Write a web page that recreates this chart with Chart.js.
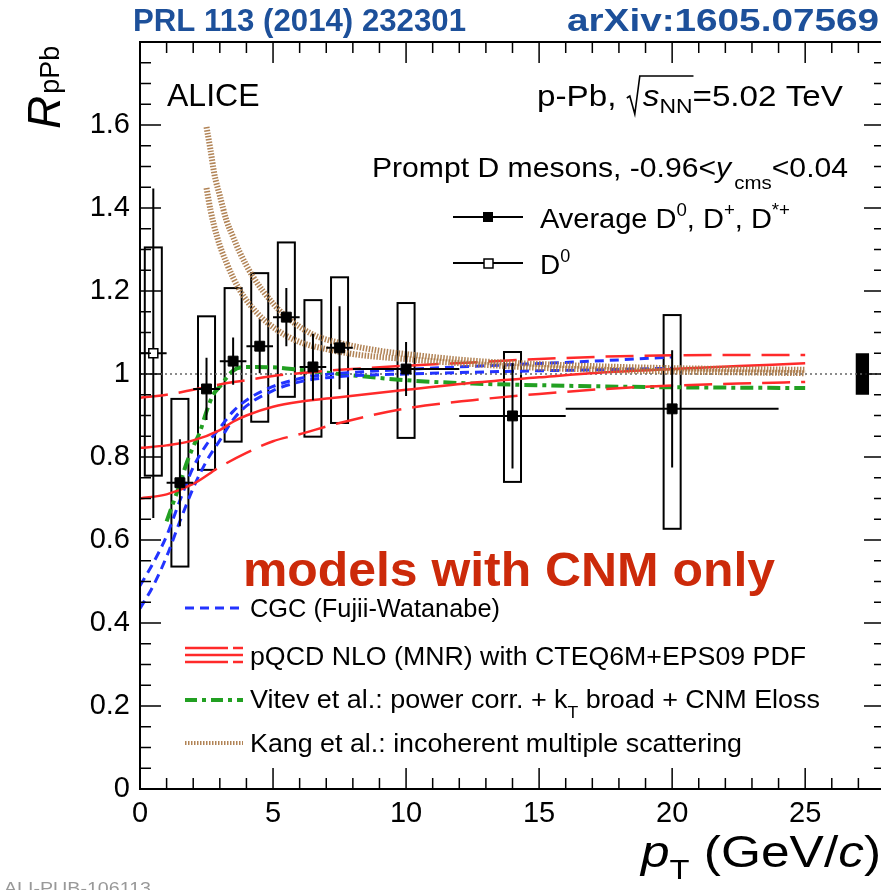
<!DOCTYPE html>
<html>
<head>
<meta charset="utf-8">
<script src="https://cdn.jsdelivr.net/npm/chart.js@4/dist/chart.umd.min.js"></script>
<style>
html, body { margin: 0; padding: 0; background: #fff; overflow: hidden; }
#wrap { position: relative; width: 881px; height: 890px; overflow: hidden; }
canvas { display: block; }
</style>
</head>
<body>
<div id="wrap"><canvas id="rpPb" width="900" height="890"></canvas></div>
<script>
// tick labels
const xTickVals = [0, 5, 10, 15, 20, 25];
const xTickLabels = ['0', '5', '10', '15', '20', '25'];
const yTickVals = [0, 0.2, 0.4, 0.6, 0.8, 1, 1.2, 1.4, 1.6];
const yTickLabels = ['0', '0.2', '0.4', '0.6', '0.8', '1', '1.2', '1.4', '1.6'];

// Average D0, D+, D*+ (filled squares)
const avgPt    = [1.5, 2.5, 3.5, 4.5, 5.5, 6.5, 7.5, 10, 14, 20];
const avgLow   = [1, 2, 3, 4, 5, 6, 7, 8, 12, 16];
const avgHigh  = [2, 3, 4, 5, 6, 7, 8, 12, 16, 24];
const avgR     = [0.738, 0.964, 1.031, 1.067, 1.137, 1.017, 1.063, 1.012, 0.899, 0.916];
const avgStat  = [0.105, 0.075, 0.057, 0.065, 0.07, 0.08, 0.10, 0.065, 0.127, 0.141];
const avgSysHi = [0.94, 1.139, 1.207, 1.243, 1.317, 1.178, 1.233, 1.171, 1.053, 1.142];
const avgSysLo = [0.536, 0.769, 0.837, 0.885, 0.945, 0.849, 0.882, 0.846, 0.74, 0.627];

// D0 only (open square)
const d0Pt    = [0.5];
const d0Low   = [0];
const d0High  = [1];
const d0R     = [1.05];
const d0Stat  = [0.397];
const d0SysHi = [1.305];
const d0SysLo = [0.755];

// normalisation uncertainty, drawn at the right
const normPt = 27.15;
const normUnc = 0.05;

// CGC (Fujii-Watanabe)
const cgcX  = [0, 0.5, 1, 1.5, 2, 2.5, 3, 3.5, 4, 5, 6, 7, 8, 10, 13, 16, 18, 20];
const cgcHi = [0.49, 0.545, 0.61, 0.695, 0.775, 0.83, 0.87, 0.91, 0.937, 0.97, 0.989, 0.999, 1.004, 1.011, 1.02, 1.028, 1.034, 1.041];
const cgcLo = [0.435, 0.49, 0.56, 0.645, 0.725, 0.79, 0.84, 0.89, 0.923, 0.96, 0.981, 0.991, 0.996, 1.0, 1.005, 1.009, 1.011, 1.014];

// pQCD NLO (MNR) with CTEQ6M+EPS09
const mnrHiX = [0, 1, 2, 3, 4, 5, 6, 7.5, 10, 12.5, 15, 17.5, 20, 22.5, 25];
const mnrHi  = [0.943, 0.95, 0.962, 0.975, 0.985, 0.995, 1.002, 1.01, 1.02, 1.028, 1.036, 1.042, 1.045, 1.046, 1.046];
const mnrMidX = [0, 1, 2, 3, 3.5, 4, 5, 6, 7.5, 10, 12.5, 15, 17.5, 20, 22.5, 25];
const mnrMid  = [0.822, 0.828, 0.84, 0.865, 0.885, 0.9, 0.921, 0.933, 0.944, 0.962, 0.979, 0.992, 1.004, 1.012, 1.019, 1.026];
const mnrLoX = [0, 1, 2, 3, 4, 5, 6, 7.5, 10, 12.5, 15, 17.5, 20, 22.5, 25];
const mnrLo  = [0.7, 0.71, 0.735, 0.776, 0.81, 0.838, 0.855, 0.882, 0.917, 0.937, 0.952, 0.964, 0.972, 0.977, 0.981];

// Vitev et al.
const vitevX = [1.0, 1.25, 1.5, 1.75, 2, 2.25, 2.5, 2.75, 3, 3.5, 4, 5, 6, 7.5, 10, 12.5, 15, 17.5, 20, 22.5, 25];
const vitev  = [0.645, 0.69, 0.735, 0.785, 0.825, 0.86, 0.91, 0.95, 0.97, 1.008, 1.017, 1.016, 1.01, 1.0, 0.985, 0.977, 0.973, 0.97, 0.968, 0.967, 0.966];

// Kang et al.
const kangHiX = [2.5, 2.65, 2.8, 3, 3.25, 3.5, 3.75, 4.25, 5, 5.5, 6.5, 7.5, 9, 10, 12.5, 15, 17.5, 20, 22.5, 25];
const kangHi  = [1.595, 1.54, 1.48, 1.43, 1.37, 1.33, 1.293, 1.234, 1.17, 1.138, 1.095, 1.075, 1.056, 1.048, 1.032, 1.024, 1.018, 1.014, 1.012, 1.01];
const kangLoX = [2.5, 2.65, 2.9, 3.25, 3.75, 4.4, 5.15, 6, 7, 8, 10, 12.5, 15, 17.5, 20, 22.5, 25];
const kangLo  = [1.448, 1.395, 1.33, 1.268, 1.202, 1.147, 1.106, 1.077, 1.06, 1.048, 1.036, 1.024, 1.015, 1.01, 1.006, 1.004, 1.002];

const FONT = '"Liberation Sans", Arial, Helvetica, sans-serif';
const BOX_HALF = 0.32;   // half width of the systematic boxes, in GeV/c
const RED = '#ff2a2a', BLUE = '#2233ff', GREEN = '#22a022', BROWN = 'rgba(168,118,66,0.9)';

const xy = (xs, ys) => xs.map((x, i) => ({x: x, y: ys[i]}));

function model(xs, ys, color, width, dash, extra) {
    return Object.assign({
        type: 'line', data: xy(xs, ys), borderColor: color, borderWidth: width,
        borderDash: dash, pointRadius: 0, fill: false,
        cubicInterpolationMode: 'monotone', order: 2
    }, extra || {});
}

// draw a run of text pieces (for sub/superscripts), optionally stretched to a width
function fnt(r) { return (r.i ? 'italic ' : '') + (r.b ? 'bold ' : '') + r.s + 'px ' + FONT; }
function runs(ctx, x, y, list, align, color, fitW) {
    ctx.save();
    ctx.fillStyle = color || '#000';
    ctx.textBaseline = 'alphabetic';
    ctx.textAlign = 'left';
    let w = 0;
    list.forEach(r => { ctx.font = fnt(r); r.w = ctx.measureText(r.t).width + (r.gap || 0); w += r.w; });
    const k = fitW ? fitW / w : 1;
    const W = w * k;
    const start = align === 'right' ? x - W : (align === 'center' ? x - W / 2 : x);
    ctx.translate(start, y);
    ctx.scale(k, 1);
    let cx = 0;
    list.forEach(r => {
        ctx.font = fnt(r);
        ctx.fillText(r.t, cx, r.dy || 0);
        r.px0 = start + cx * k;
        r.pw = r.w * k;
        cx += r.w;
    });
    ctx.restore();
    return list;
}

// systematics boxes and error bars
function drawBoxes(chart, pts, sysLo, sysHi) {
    const {ctx, scales: {x, y}} = chart;
    ctx.save();
    ctx.strokeStyle = '#000';
    ctx.lineWidth = 2;
    pts.forEach((p, i) => {
        const l = x.getPixelForValue(p - BOX_HALF), r = x.getPixelForValue(p + BOX_HALF);
        const t = y.getPixelForValue(sysHi[i]), b = y.getPixelForValue(sysLo[i]);
        ctx.strokeRect(l, t, r - l, b - t);
    });
    ctx.restore();
}
function drawBars(chart, pts, lo, hi, val, stat) {
    const {ctx, scales: {x, y}} = chart;
    ctx.save();
    ctx.strokeStyle = '#000';
    ctx.lineWidth = 2;
    ctx.beginPath();
    pts.forEach((p, i) => {
        const px = x.getPixelForValue(p), py = y.getPixelForValue(val[i]);
        ctx.moveTo(x.getPixelForValue(lo[i]), py);
        ctx.lineTo(x.getPixelForValue(hi[i]), py);
        ctx.moveTo(px, y.getPixelForValue(val[i] + stat[i]));
        ctx.lineTo(px, y.getPixelForValue(val[i] - stat[i]));
    });
    ctx.stroke();
    ctx.restore();
}

const dataPlugin = {
    id: 'dataPlugin',
    beforeDatasetsDraw(chart) {
        drawBoxes(chart, avgPt, avgSysLo, avgSysHi);
        drawBoxes(chart, d0Pt, d0SysLo, d0SysHi);
        const {ctx, scales: {x, y}} = chart;
        const l = x.getPixelForValue(normPt - 0.25), r = x.getPixelForValue(normPt + 0.25);
        const t = y.getPixelForValue(1 + normUnc), b = y.getPixelForValue(1 - normUnc);
        ctx.fillStyle = '#000';
        ctx.fillRect(l, t, r - l, b - t);
    },
    beforeDatasetDraw(chart, args) {
        if (args.index === 0) drawBars(chart, avgPt, avgLow, avgHigh, avgR, avgStat);
        if (args.index === 1) drawBars(chart, d0Pt, d0Low, d0High, d0R, d0Stat);
    }
};

// ROOT style frame with inner ticks
const framePlugin = {
    id: 'framePlugin',
    afterDatasetsDraw(chart) {
        const {ctx, chartArea: a, scales: {x, y}} = chart;
        ctx.save();
        ctx.strokeStyle = '#000';
        ctx.lineWidth = 1.5;
        ctx.beginPath();
        for (let v = 0; v <= 28; v++) {
            const px = x.getPixelForValue(v);
            const len = v % 5 === 0 ? 21 : 11;
            ctx.moveTo(px, a.bottom); ctx.lineTo(px, a.bottom - len);
            ctx.moveTo(px, a.top); ctx.lineTo(px, a.top + len);
        }
        for (let k = 0; k <= 36; k++) {
            const py = y.getPixelForValue(k * 0.05);
            const len = k % 4 === 0 ? 21 : 11;
            ctx.moveTo(a.left, py); ctx.lineTo(a.left + len, py);
            ctx.moveTo(a.right, py); ctx.lineTo(a.right - len, py);
        }
        ctx.stroke();
        ctx.lineWidth = 2;
        ctx.strokeRect(a.left, a.top, a.right - a.left, a.bottom - a.top);
        ctx.restore();
    }
};

function seg(ctx, x1, y1, x2, y2, color, width, dash) {
    ctx.save();
    ctx.strokeStyle = color; ctx.lineWidth = width; ctx.setLineDash(dash || []);
    ctx.beginPath(); ctx.moveTo(x1, y1); ctx.lineTo(x2, y2); ctx.stroke();
    ctx.restore();
}

const textPlugin = {
    id: 'textPlugin',
    afterDraw(chart) {
        const ctx = chart.ctx;
        const hdr = '#1d509a';
        runs(ctx, 133, 31, [{t: 'PRL 113 (2014) 232301', s: 31, b: true}], 'left', hdr, 333);
        runs(ctx, 879, 31, [{t: 'arXiv:1605.07569', s: 31, b: true}], 'right', hdr, 312);

        runs(ctx, 167, 106, [{t: 'ALICE', s: 32}]);

        // p-Pb, sqrt(sNN)=5.02 TeV
        const r1 = runs(ctx, 537, 106, [
            {t: 'p-Pb, ', s: 29, gap: 15},
            {t: 's', s: 29, i: true},
            {t: 'NN', s: 20, dy: 7},
            {t: '=5.02 TeV', s: 29}
        ], 'left', '#000', 306);
        const sx = r1[1].px0 - 16;
        ctx.save();
        ctx.strokeStyle = '#000'; ctx.lineWidth = 1.6;
        ctx.beginPath();
        ctx.moveTo(sx, 98); ctx.lineTo(sx + 3, 96); ctx.lineTo(sx + 8, 114);
        ctx.lineTo(sx + 13, 76); ctx.lineTo(r1[2].px0 + r1[2].pw + 1, 76);
        ctx.stroke();
        ctx.restore();

        runs(ctx, 848, 177, [
            {t: 'Prompt D mesons, -0.96<', s: 28},
            {t: 'y', s: 28, i: true, gap: 3},
            {t: 'cms', s: 19, dy: 12},
            {t: '<0.04', s: 28}
        ], 'right', '#000', 476);

        // data legend
        seg(ctx, 453, 217, 523, 217, '#000', 2);
        ctx.fillStyle = '#000';
        ctx.fillRect(483, 212, 10, 10);
        runs(ctx, 540, 228, [
            {t: 'Average D', s: 28}, {t: '0', s: 18, dy: -12},
            {t: ', D', s: 28}, {t: '+', s: 18, dy: -12},
            {t: ', D', s: 28}, {t: '*+', s: 18, dy: -12}
        ], 'left', '#000', 250);
        seg(ctx, 453, 263, 523, 263, '#000', 2);
        ctx.fillStyle = '#fff'; ctx.fillRect(484, 259, 9, 9);
        ctx.strokeStyle = '#000'; ctx.lineWidth = 1.5; ctx.strokeRect(484, 259, 9, 9);
        runs(ctx, 540, 274, [{t: 'D', s: 28}, {t: '0', s: 18, dy: -12}]);

        runs(ctx, 243, 586, [{t: 'models with CNM only', s: 48, b: true}], 'left', '#cc2a0a', 532);

        // model legend
        seg(ctx, 185, 608, 243, 608, BLUE, 3, [9, 6]);
        seg(ctx, 185, 648, 228, 648, RED, 2.5); seg(ctx, 233, 648, 243, 648, RED, 2.5);
        seg(ctx, 185, 655, 243, 655, RED, 2.5);
        seg(ctx, 185, 662, 228, 662, RED, 2.5); seg(ctx, 233, 662, 243, 662, RED, 2.5);
        seg(ctx, 185, 700, 243, 700, GREEN, 4, [12, 5, 4, 5]);
        seg(ctx, 185, 743, 243, 743, BROWN, 4, [1.5, 1.5]);
        runs(ctx, 250, 617, [{t: 'CGC (Fujii-Watanabe)', s: 26}], 'left', '#000', 250);
        runs(ctx, 250, 665, [{t: 'pQCD NLO (MNR) with CTEQ6M+EPS09 PDF', s: 26}], 'left', '#000', 556);
        runs(ctx, 250, 708, [
            {t: 'Vitev et al.: power corr. + k', s: 26},
            {t: 'T', s: 17, dy: 10},
            {t: ' broad + CNM Eloss', s: 26}
        ], 'left', '#000', 570);
        runs(ctx, 250, 752, [{t: 'Kang et al.: incoherent multiple scattering', s: 26}], 'left', '#000', 492);

        // axis titles
        ctx.save();
        ctx.translate(60, 129);
        ctx.rotate(-Math.PI / 2);
        runs(ctx, 0, 0, [{t: 'R', s: 46, i: true, gap: 2}, {t: 'pPb', s: 27, dy: -1}]);
        ctx.restore();
        runs(ctx, 881, 867, [
            {t: 'p', s: 44, i: true},
            {t: 'T', s: 28, dy: 12},
            {t: ' (GeV/', s: 44},
            {t: 'c', s: 44, i: true},
            {t: ')', s: 44}
        ], 'right', '#000', 240);

        runs(ctx, 4, 894, [{t: 'ALI-PUB-106113', s: 17}], 'left', '#999', 147);
    }
};

const canvas = document.getElementById('rpPb');

const rpPbChart = new Chart(canvas, {
    type: 'scatter',
    data: {
        datasets: [
            {
                type: 'scatter', label: 'Average D0, D+, D*+', data: xy(avgPt, avgR),
                pointStyle: 'rect', pointRadius: 7, backgroundColor: '#000', borderColor: '#000', order: 0
            },
            {
                type: 'scatter', label: 'D0', data: xy(d0Pt, d0R),
                pointStyle: 'rect', pointRadius: 6.4, backgroundColor: '#fff', borderColor: '#000',
                borderWidth: 1.5, order: 0
            },
            model(kangHiX, kangHi, BROWN, 6, [1.5, 1.5]),
            model(kangLoX, kangLo, BROWN, 6, [1.5, 1.5]),
            model(mnrHiX, mnrHi, RED, 2.5, [28, 11]),
            model(mnrMidX, mnrMid, RED, 2.5, []),
            model(mnrLoX, mnrLo, RED, 2.5, [], {
                segment: { borderDash: c => (c.p0.parsed.x >= 2 ? [28, 11] : undefined) }
            }),
            model(cgcX, cgcHi, BLUE, 3, [9, 6]),
            model(cgcX, cgcLo, BLUE, 3, [9, 6]),
            model(vitevX, vitev, GREEN, 4, [13, 5, 4, 5]),
            {
                type: 'line', data: [{x: 0, y: 1}, {x: 28, y: 1}], borderColor: '#666',
                borderWidth: 1.3, borderDash: [2, 3], pointRadius: 0, order: 3
            }
        ]
    },
    options: {
        responsive: false,
        animation: false,
        layout: { padding: { left: 0, right: 15, top: 42, bottom: 0 } },
        plugins: { legend: { display: false }, tooltip: { enabled: false } },
        scales: {
            x: {
                type: 'linear', min: 0, max: 28,
                grid: { display: false, drawTicks: false },
                border: { display: false },
                afterBuildTicks: s => { s.ticks = xTickVals.map(v => ({value: v})); },
                afterFit: s => { s.height = 101; },
                ticks: {
                    callback: (v, i) => xTickLabels[i],
                    font: { family: FONT, size: 29 }, color: '#000', padding: 8, maxRotation: 0
                }
            },
            y: {
                type: 'linear', min: 0, max: 1.8,
                grid: { display: false, drawTicks: false },
                border: { display: false },
                afterBuildTicks: s => { s.ticks = yTickVals.map(v => ({value: v})); },
                afterFit: s => { s.width = 140; },
                ticks: {
                    callback: (v, i) => yTickLabels[i],
                    font: { family: FONT, size: 29 }, color: '#000', padding: 10
                }
            }
        }
    },
    plugins: [dataPlugin, framePlugin, textPlugin]
});
</script>
</body>
</html>
